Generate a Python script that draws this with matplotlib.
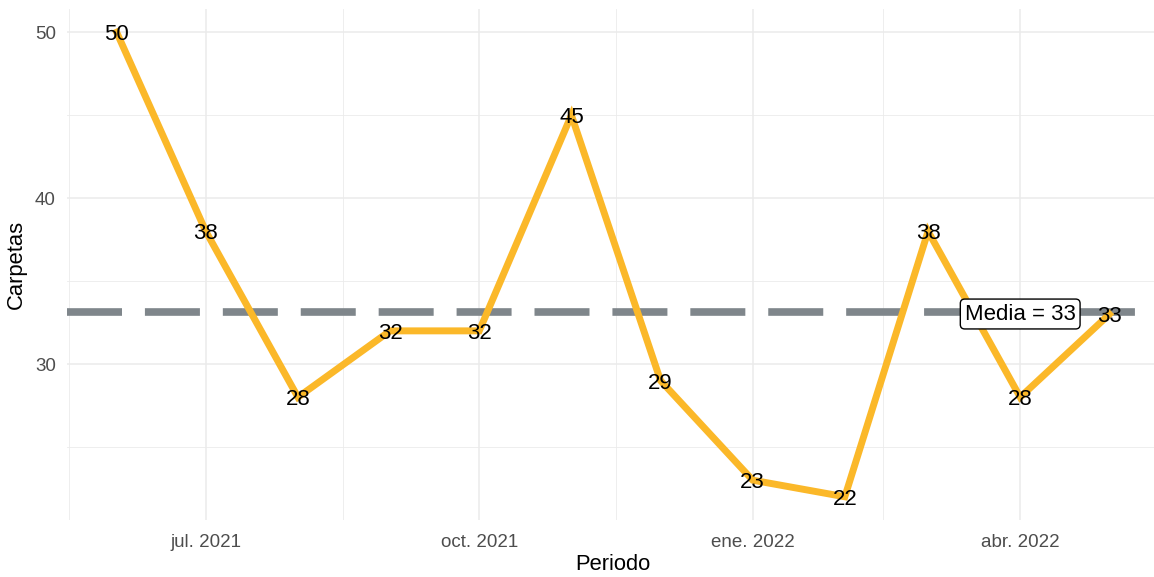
import numpy as np
import pandas as pd
import matplotlib
matplotlib.use("Agg")
from matplotlib import pyplot as plt

plt.rcParams['font.family'] = ['Liberation Sans', 'DejaVu Sans']

# data
periodo = pd.to_datetime(["2021-06-01", "2021-07-01", "2021-08-01", "2021-09-01",
                          "2021-10-01", "2021-11-01", "2021-12-01", "2022-01-01",
                          "2022-02-01", "2022-03-01", "2022-04-01", "2022-05-01"])
carpetas = [50, 38, 28, 32, 32, 45, 29, 23, 22, 38, 28, 33]
media = np.mean(carpetas)
tick_fechas = pd.to_datetime(["2021-07-01", "2021-10-01", "2022-01-01", "2022-04-01"])
tick_labels = ["jul. 2021", "oct. 2021", "ene. 2022", "abr. 2022"]
minor_fechas = pd.to_datetime(["2021-05-16", "2021-08-16", "2021-11-16", "2022-02-14", "2022-05-16"])
media_fecha = pd.Timestamp("2022-04-01")

fig = plt.figure(figsize=(11.54, 5.77), dpi=100)
W, H = 1154, 577
ax = fig.add_axes([67 / W, 1 - 520 / H, 1092 / W, 511 / H])

# ggplot style expansion (5%)
span = periodo[-1] - periodo[0]
ax.set_xlim(periodo[0] - span * 0.05, periodo[-1] + span * 0.05)
yr = max(carpetas) - min(carpetas)
ax.set_ylim(min(carpetas) - yr * 0.05, max(carpetas) + yr * 0.05)

# grid (theme_minimal)
ax.set_xticks(tick_fechas)
ax.set_xticklabels(tick_labels)
ax.set_xticks(minor_fechas, minor=True)
ax.set_yticks([30, 40, 50])
ax.set_yticks([25, 35, 45], minor=True)
ax.grid(which='major', color='#EBEBEB', linewidth=1.1)
ax.grid(which='minor', color='#EBEBEB', linewidth=0.6)
ax.set_axisbelow(True)
for s in ax.spines.values():
    s.set_visible(False)
ax.tick_params(which='both', length=0)
ax.tick_params(axis='x', labelsize=13.5, colors='#4D4D4D', pad=10)
ax.tick_params(axis='y', labelsize=13.5, colors='#4D4D4D', pad=8)

ax.axhline(media, color='#7F868B', linewidth=5.5, linestyle=(0, (7.2, 3.0)), zorder=2)
ax.plot(periodo, carpetas, color='#FBB829', linewidth=5, solid_joinstyle='miter', zorder=3)

for x, y in zip(periodo, carpetas):
    ax.text(x, y, str(y), ha='center', va='center_baseline', fontsize=16, color='black', zorder=5)

ax.text(media_fecha, media, "Media = %d" % round(media), ha='center', va='center_baseline',
        fontsize=16, color='black', zorder=6,
        bbox=dict(boxstyle='round,pad=0.2,rounding_size=0.2', fc='white', ec='black', lw=1))

ax.set_xlabel("Periodo", fontsize=15.8, labelpad=2)
ax.set_ylabel("Carpetas", fontsize=15.8, labelpad=6)

fig.savefig("out.png", dpi=100)
